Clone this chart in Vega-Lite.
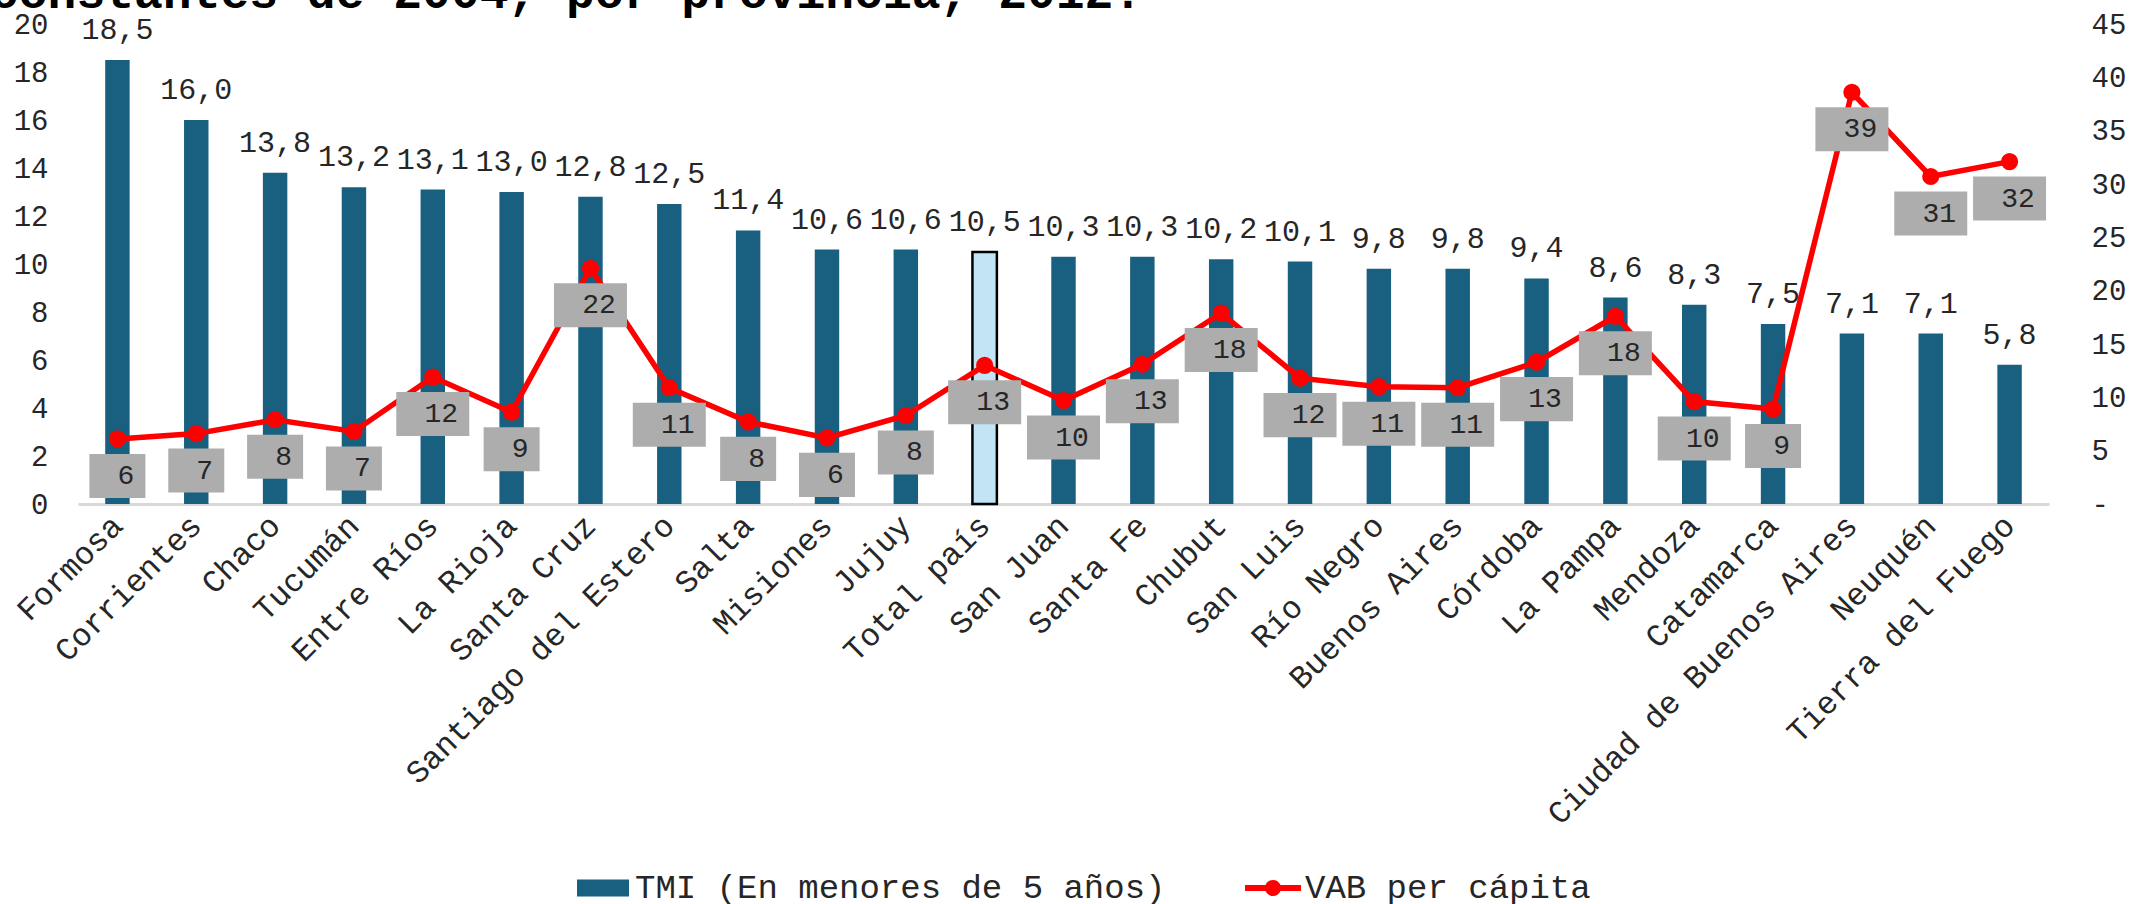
{
  "$schema": "https://vega.github.io/schema/vega-lite/v6.json",
  "width": 1971,
  "height": 480,
  "autosize": {"type": "none"},
  "padding": {"left": 78, "top": 24, "right": 87, "bottom": 400},
  "title": {
    "text": "constantes de 2004, por provincia, 2012.",
    "anchor": "start",
    "frame": "group",
    "font": "Liberation Mono",
    "fontSize": 48,
    "fontWeight": "bold",
    "color": "#000000",
    "baseline": "alphabetic",
    "offset": -46,
    "dx": -88
  },
  "config": {
    "view": {"stroke": null},
    "axis": {"grid": false, "ticks": false, "title": null},
    "locale": {"number": {"decimal": ",", "thousands": ".", "grouping": [3], "currency": ["$", ""]}}
  },
  "data": {
    "values": [
      {"provincia": "Formosa", "tmi": 18.5, "vab": 6.1},
      {"provincia": "Corrientes", "tmi": 16.0, "vab": 6.6},
      {"provincia": "Chaco", "tmi": 13.8, "vab": 7.9},
      {"provincia": "Tucumán", "tmi": 13.2, "vab": 6.8},
      {"provincia": "Entre Ríos", "tmi": 13.1, "vab": 11.9},
      {"provincia": "La Rioja", "tmi": 13.0, "vab": 8.6},
      {"provincia": "Santa Cruz", "tmi": 12.8, "vab": 22.1},
      {"provincia": "Santiago del Estero", "tmi": 12.5, "vab": 10.9},
      {"provincia": "Salta", "tmi": 11.4, "vab": 7.7},
      {"provincia": "Misiones", "tmi": 10.6, "vab": 6.2},
      {"provincia": "Jujuy", "tmi": 10.6, "vab": 8.3},
      {"provincia": "Total país", "tmi": 10.5, "vab": 13.0},
      {"provincia": "San Juan", "tmi": 10.3, "vab": 9.7},
      {"provincia": "Santa Fe", "tmi": 10.3, "vab": 13.1},
      {"provincia": "Chubut", "tmi": 10.2, "vab": 17.9},
      {"provincia": "San Luis", "tmi": 10.1, "vab": 11.8},
      {"provincia": "Río Negro", "tmi": 9.8, "vab": 11.0},
      {"provincia": "Buenos Aires", "tmi": 9.8, "vab": 10.9},
      {"provincia": "Córdoba", "tmi": 9.4, "vab": 13.3},
      {"provincia": "La Pampa", "tmi": 8.6, "vab": 17.6},
      {"provincia": "Mendoza", "tmi": 8.3, "vab": 9.6},
      {"provincia": "Catamarca", "tmi": 7.5, "vab": 8.9},
      {"provincia": "Ciudad de Buenos Aires", "tmi": 7.1, "vab": 38.6},
      {"provincia": "Neuquén", "tmi": 7.1, "vab": 30.7},
      {"provincia": "Tierra del Fuego", "tmi": 5.8, "vab": 32.1}
    ]
  },
  "encoding": {
    "x": {
      "field": "provincia",
      "type": "nominal",
      "sort": null,
      "scale": {"paddingInner": 0.69, "paddingOuter": 0.345},
      "axis": {
        "labelAngle": -45,
        "labelAlign": "right",
        "labelBaseline": "middle",
        "labelPadding": 16,
        "labelFont": "Liberation Mono",
        "labelFontSize": 32,
        "labelColor": "#262626",
        "labelLimit": 1000,
        "labelOverlap": false,
        "labelBound": false,
        "domainColor": "#D9D9D9",
        "domainWidth": 3
      }
    }
  },
  "layer": [
    {
      "encoding": {
        "y": {
          "field": "tmi",
          "type": "quantitative",
          "scale": {"domain": [0, 20]},
          "axis": {
            "orient": "left",
            "values": [0, 2, 4, 6, 8, 10, 12, 14, 16, 18, 20],
            "domain": false,
            "labelFont": "Liberation Mono",
            "labelFontSize": 29,
            "labelColor": "#262626",
            "labelPadding": 30,
            "labelAlign": "right"
          }
        }
      },
      "layer": [
        {
          "mark": {"type": "bar", "stroke": "#000000"},
          "encoding": {
            "fill": {
              "condition": {"test": "datum.provincia === 'Total país'", "value": "#C2E4F4"},
              "datum": "TMI (En menores de 5 años)",
              "type": "nominal",
              "scale": {"domain": ["TMI (En menores de 5 años)"], "range": ["#185F80"]},
              "legend": {
                "orient": "none",
                "legendX": 499,
                "legendY": 838,
                "direction": "horizontal",
                "title": null,
                "labelFont": "Liberation Mono",
                "labelFontSize": 34,
                "labelColor": "#262626",
                "labelLimit": 1000,
                "labelOffset": 6,
                "symbolSize": 2704,
                "symbolType": "M-1,-0.33H1V0.33H-1Z",
                "symbolStrokeWidth": 0,
                "symbolOpacity": 1
              }
            },
            "strokeWidth": {
              "condition": {"test": "datum.provincia === 'Total país'", "value": 2.5},
              "value": 0
            }
          }
        },
        {
          "mark": {
            "type": "text",
            "dy": -30,
            "baseline": "middle",
            "align": "center",
            "font": "Liberation Mono",
            "fontSize": 30,
            "color": "#262626"
          },
          "encoding": {
            "text": {"field": "tmi", "type": "quantitative", "format": ".1f"}
          }
        }
      ]
    },
    {
      "encoding": {
        "y": {
          "field": "vab",
          "type": "quantitative",
          "scale": {"domain": [0, 45]},
          "axis": {
            "orient": "right",
            "values": [0, 5, 10, 15, 20, 25, 30, 35, 40, 45],
            "labelExpr": "datum.value === 0 ? '-' : datum.label",
            "domain": false,
            "labelFont": "Liberation Mono",
            "labelFontSize": 29,
            "labelColor": "#262626",
            "labelPadding": 42,
            "labelAlign": "left"
          }
        }
      },
      "layer": [
        {
          "mark": {
            "type": "line",
            "strokeWidth": 5.5,
            "point": {"filled": true, "size": 230, "opacity": 1, "fill": "#FF0000"}
          },
          "encoding": {
            "stroke": {
              "datum": "VAB per cápita",
              "type": "nominal",
              "scale": {"domain": ["VAB per cápita"], "range": ["#FF0000"]},
              "legend": {
                "orient": "none",
                "legendX": 1167,
                "legendY": 836,
                "direction": "horizontal",
                "title": null,
                "labelFont": "Liberation Mono",
                "labelFontSize": 34,
                "labelColor": "#262626",
                "labelLimit": 1000,
                "labelOffset": 4,
                "symbolSize": 3136,
                "symbolType": "M-1,-0.107H-0.268A0.29,0.29 0 0,1 0.268,-0.107H1V0.107H0.268A0.29,0.29 0 0,1 -0.268,0.107H-1Z",
                "symbolFillColor": "#FF0000",
                "symbolStrokeWidth": 0,
                "symbolOpacity": 1
              }
            }
          }
        },
        {
          "mark": {
            "type": "point",
            "filled": true,
            "color": "#ADADAD",
            "opacity": 1,
            "strokeWidth": 0,
            "size": 5329,
            "yOffset": 37
          },
          "encoding": {
            "shape": {
              "condition": {"test": "datum.vab >= 9.5", "value": "M-1,-0.603H1V0.603H-1Z"},
              "value": "M-0.767,-0.603H0.767V0.603H-0.767Z"
            }
          }
        },
        {
          "mark": {
            "type": "text",
            "yOffset": 37,
            "dx": 8.5,
            "baseline": "middle",
            "align": "center",
            "font": "Liberation Mono",
            "fontSize": 28,
            "color": "#262626"
          },
          "encoding": {
            "text": {"field": "vab", "type": "quantitative", "format": ".0f"}
          }
        }
      ]
    }
  ],
  "resolve": {"scale": {"y": "independent"}}
}
